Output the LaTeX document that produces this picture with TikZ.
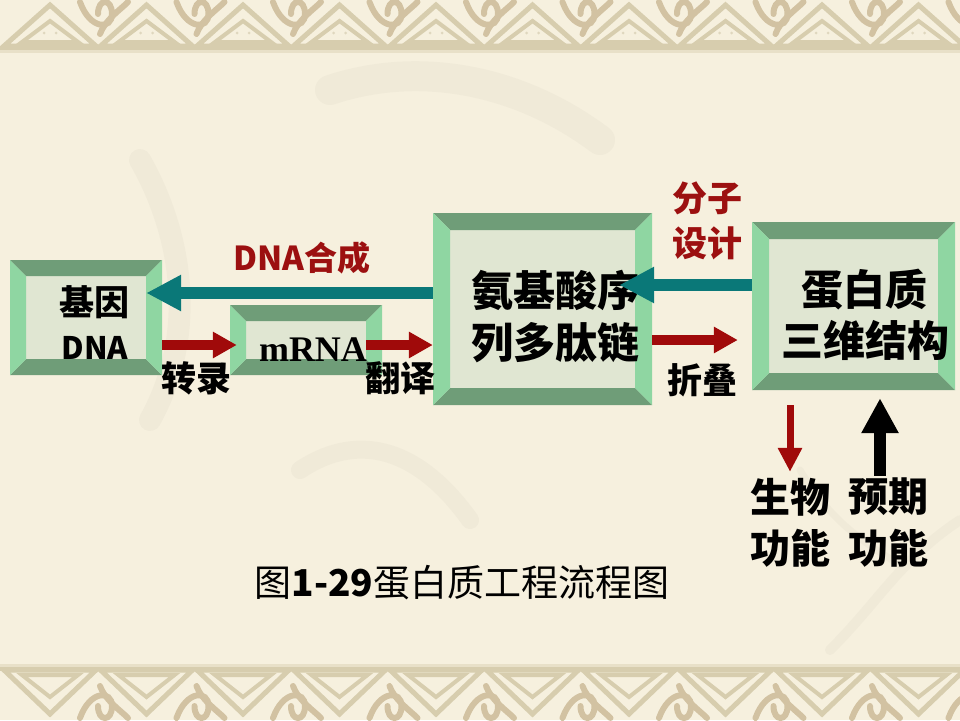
\documentclass[tikz,border=0pt]{standalone}
\usepackage{fontspec}
\setmainfont{Noto Sans CJK SC}
\newfontfamily\tms{Liberation Serif}
\usetikzlibrary{arrows.meta,calc,fit}
\definecolor{bgc}{HTML}{F6F0DE}
\definecolor{tanc}{HTML}{D7CDAE}
\definecolor{tand}{HTML}{D2C2A2}
\definecolor{bevd}{HTML}{6F9D78}
\definecolor{bevl}{HTML}{8FD6A2}
\definecolor{facec}{HTML}{E0E6D2}
\definecolor{tealA}{HTML}{0A7878}
\definecolor{redA}{HTML}{A00A0A}
\definecolor{redL}{HTML}{9C1010}
\definecolor{inkc}{HTML}{9A9488}
\newcommand\bevbox[6]{%
  \fill[facec] (#2,#3) rectangle (#4,#5);
  \fill[bevd] (#2,#3) -- (#4,#3) -- (#4-#6,#3+#6) -- (#2+#6,#3+#6) -- cycle;
  \fill[bevd] (#2,#5) -- (#4,#5) -- (#4-#6,#5-#6) -- (#2+#6,#5-#6) -- cycle;
  \fill[bevl] (#2,#3) -- (#2+#6,#3+#6) -- (#2+#6,#5-#6) -- (#2,#5) -- cycle;
  \fill[bevl] (#4,#3) -- (#4-#6,#3+#6) -- (#4-#6,#5-#6) -- (#4,#5) -- cycle;
  \coordinate (#1nw) at (#2,#3);
  \coordinate (#1se) at (#4,#5);
  \coordinate (#1inw) at (#2+#6,#3+#6);
  \coordinate (#1ise) at (#4-#6,#5-#6);
  \node[fit=(#1nw)(#1se), inner sep=0pt] (#1) {};
  \node[fit=(#1inw)(#1ise), inner sep=0pt] (#1in) {};
}
\tikzset{
  boxtxt/.style={inner sep=0pt, font=\bfseries\fontsize{42}{46}\selectfont},
  lbl/.style={inner sep=0pt, font=\bfseries\fontsize{35}{40}\selectfont},
  redlbl/.style={lbl, text=redL},
  tealarrow/.style={draw=tealA, line width=12pt, -{Triangle[length=35pt,width=34pt]}},
  redarrow/.style={draw=redA, line width=10pt, -{Triangle[length=24pt,width=25pt]}},
  bord/.style={draw=tanc, line width=5pt, line join=miter},
  knot/.style={draw=tand, line width=6pt, line cap=round},
}
\begin{document}
\begin{tikzpicture}[x=1pt,y=-1pt]
\useasboundingbox (0,0) rectangle (960,720);
\fill[bgc] (0,0) rectangle (960,720);
% faint background strokes
\begin{scope}[opacity=0.06, line cap=round]
  \draw[line width=30pt, inkc] (330,90) .. controls (420,60) and (520,80) .. (600,140);
  \draw[line width=22pt, inkc] (140,160) .. controls (180,230) and (200,330) .. (150,420);
  \draw[line width=18pt, inkc] (300,470) .. controls (360,430) and (420,450) .. (470,520);
  \draw[line width=10pt, inkc] (960,520) .. controls (900,560) and (880,600) .. (830,650);
  \draw[line width=7pt, inkc] (900,565) .. controls (860,540) and (830,520) .. (800,470);
\end{scope}
% top border
\foreach \k in {0,...,10} {
  \pgfmathsetmacro\cx{50+96.5*\k}
  \draw[knot] (\cx+30,2) .. controls (\cx+40,30) and (\cx+62,30) .. (\cx+62,14)
              .. controls (\cx+62,-2) and (\cx+48,-2) .. (\cx+48,14);
  \draw[knot] (\cx+50,34) .. controls (\cx+55,20) and (\cx+70,10) .. (\cx+78,2);
  \draw[bord] (\cx,5) -- (\cx+46,46) -- (\cx-46,46) -- cycle;
  \draw[tanc, line width=4pt] (\cx,21) -- (\cx+28,42) -- (\cx-28,42) -- cycle;
  \fill[tanc!80!white] (\cx-6,33) circle (1.5pt) (\cx+6,33) circle (1.5pt);
}
\fill[tanc] (0,46) rectangle (960,50);
\fill[tanc!45!bgc] (0,50) rectangle (960,53);
% bottom border
\foreach \k in {0,...,10} {
  \pgfmathsetmacro\cx{50+96.5*\k}
  \draw[knot] (\cx+30,718) .. controls (\cx+40,690) and (\cx+62,690) .. (\cx+62,706)
              .. controls (\cx+62,722) and (\cx+48,722) .. (\cx+48,706);
  \draw[knot] (\cx+50,686) .. controls (\cx+55,700) and (\cx+70,710) .. (\cx+78,718);
  \draw[bord] (\cx,714) -- (\cx+46,670) -- (\cx-46,670) -- cycle;
  \draw[tanc, line width=4pt] (\cx,697) -- (\cx+28,675) -- (\cx-28,675) -- cycle;
}
\fill[tanc!45!bgc] (0,664) rectangle (960,667);
\fill[tanc] (0,667) rectangle (960,671);
% boxes
\bevbox{bA}{10}{260}{162}{375}{16}
\bevbox{bB}{230}{305}{382}{375}{16}
\bevbox{bC}{433}{213}{652}{405}{17}
\bevbox{bD}{752}{222}{955}{390}{17}
% box texts
\node[boxtxt, font=\bfseries\fontsize{35}{40}\selectfont] (tA1) at (94,302) {基因};
\node[boxtxt, font=\bfseries\fontsize{31}{36}\selectfont] (tA2) at (95,348) {DNA};
\node[inner sep=0pt, font=\tms\bfseries\fontsize{36}{40}\selectfont] (tB) at (313,350) {mRNA};
\node[boxtxt] (tC1) at (555,290) {氨基酸序};
\node[boxtxt] (tC2) at (555,343) {列多肽链};
\node[boxtxt] (tD1) at (864,290) {蛋白质};
\node[boxtxt] (tD2) at (865,340) {三维结构};
% arrows
\draw[tealarrow] (bC.west |- 0,293) -- (bAin.east |- 0,293);
\draw[tealarrow] (bD.west |- 0,285) -- ($(bCin.east |- 0,285)+(-16,0)$);
\draw[redarrow] (bA.east |- 0,345) -- ($(bB.west |- 0,345)+(7,0)$);
\draw[redarrow] (bBin.east |- 0,345) -- (bC.west |- 0,345);
\draw[redarrow] (bC.east |- 0,340) -- ($(bD.west |- 0,340)+(-14,0)$);
% labels
\node[redlbl, font=\bfseries\fontsize{33}{38}\selectfont] (lDNA) at (302,258) {DNA合成};
\node[redlbl] (lFZ1) at (707,198) {分子};
\node[redlbl] (lFZ2) at (707,243) {设计};
\node[lbl] (lZL) at (196,378) {转录};
\node[lbl] (lFY) at (400,378) {翻译};
\node[lbl] (lZD) at (702,380) {折叠};
\node[lbl, font=\bfseries\fontsize{40}{44}\selectfont] (lSW1) at (790,497) {生物};
\node[lbl, font=\bfseries\fontsize{40}{44}\selectfont] (lSW2) at (790,548) {功能};
\node[lbl, font=\bfseries\fontsize{40}{44}\selectfont] (lYQ1) at (888,497) {预期};
\node[lbl, font=\bfseries\fontsize{40}{44}\selectfont] (lYQ2) at (888,548) {功能};
\draw[draw=redA, line width=7pt, -{Triangle[length=24pt,width=23pt]}] ($(bD.south -| 0,0)+(790,15)$) -- ($(lSW1.north -| 0,0)+(790,-6)$);
\draw[draw=black, line width=12pt, -{Triangle[length=35pt,width=35pt]}] ($(lYQ1.north -| 0,0)+(880,-2)$) -- ($(bD.south -| 0,0)+(880,8)$);
% caption
\node[inner sep=0pt, font=\fontsize{37}{42}\selectfont] (cap) at (462,583) {图{\bfseries 1-29}蛋白质工程流程图};
\end{tikzpicture}
\end{document}
